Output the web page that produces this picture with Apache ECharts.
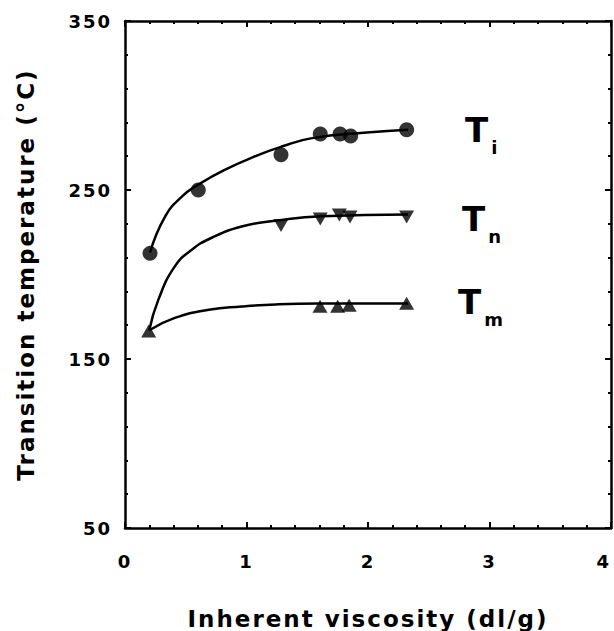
<!DOCTYPE html>
<html>
<head>
<meta charset="utf-8">
<script src="https://cdn.jsdelivr.net/npm/echarts@6/dist/echarts.min.js"></script>
<style>
  html, body { margin: 0; background: #fff; }
  main { width: 614px; height: 631px; }
  main text { letter-spacing: 2px; }
</style>
</head>
<body>
<main></main>
<script>
// measured points
const viscTi = [0.206, 0.603, 1.284, 1.607, 1.77, 1.857, 2.318]
const tempTi = [212.5, 250, 270.8, 283.2, 283.2, 282, 285.6]
const viscTn = [1.284, 1.607, 1.764, 1.852, 2.318]
const tempTn = [229, 232.8, 235.2, 234, 234]
const viscTm = [0.195, 1.605, 1.75, 1.845, 2.318]
const tempTm = [166.5, 181.2, 181.2, 181.8, 183]

// fitted curves
const fitViscTi = [0.206, 0.33, 0.47, 0.6, 0.82, 1.1, 1.29, 1.54, 1.99, 2.33]
const fitTempTi = [213, 234.3, 246.2, 253, 261.9, 270.8, 275.7, 280.7, 284, 285.6]
const fitViscTn = [0.2, 0.274, 0.41, 0.55, 0.71, 0.96, 1.24, 1.62, 2.33]
const fitTempTn = [167, 185, 204.8, 214.7, 221.6, 228.4, 231.8, 234.5, 235.5]
const fitViscTm = [0.2, 0.41, 0.69, 0.96, 1.24, 1.59, 2.33]
const fitTempTm = [167, 174.3, 179.2, 181.1, 182.3, 182.8, 182.8]

const yMajor = [50, 150, 250, 350]
const yMinor = [70, 90, 110, 130, 170, 190, 210, 230, 270, 290, 310, 330]

;(function () {
  const font = 'DejaVu Sans'
  const black = '#000'
  const pairs = (xs, ys) => xs.map((x, i) => [x, ys[i]])

  const line = { onZero: false, lineStyle: { color: black, width: 2.5 } }
  const tick = (length, extra) => Object.assign({ inside: true, length, lineStyle: { color: black, width: 2 } }, extra)
  const label = { color: black, fontFamily: font, fontWeight: 'bold', fontSize: 18 }
  const title = { color: black, fontFamily: font, fontWeight: 'bold', fontSize: 23 }

  function xAxis(position, withLabels) {
    return {
      type: 'value',
      position,
      min: 0,
      max: 4,
      interval: 1,
      axisLine: line,
      axisTick: tick(6),
      minorTick: { show: true, splitNumber: 5, length: 3, lineStyle: { color: black, width: 2 } },
      splitLine: { show: false },
      minorSplitLine: { show: false },
      axisLabel: withLabels ? Object.assign({ margin: 24, alignMaxLabel: 'right' }, label) : { show: false },
      name: withLabels ? 'Inherent viscosity (dl/g)' : '',
      nameLocation: 'middle',
      nameGap: 79,
      nameTextStyle: title,
    }
  }

  function yAxis(position, values, length, main) {
    return {
      type: 'value',
      position,
      min: 50,
      max: 350,
      axisLine: main !== undefined ? line : { show: false, onZero: false },
      axisTick: tick(length, { customValues: values }),
      splitLine: { show: false },
      axisLabel: main ? Object.assign({ margin: 13, customValues: values }, label) : { show: false },
      name: main ? 'Transition temperature (°C)' : '',
      nameLocation: 'middle',
      nameGap: 88,
      nameTextStyle: title,
    }
  }

  const rich = {
    t: { fontFamily: font, fontWeight: 'bold', fontSize: 34, lineHeight: 34, color: black },
    s: { fontFamily: font, fontWeight: 'bold', fontSize: 18, lineHeight: 18, color: black, padding: [36, 0, 0, 3] },
  }

  function curve(xs, ys, sub, distance, offset) {
    return {
      type: 'line',
      data: pairs(xs, ys),
      smooth: 0.5,
      showSymbol: false,
      lineStyle: { color: black, width: 2.5 },
      endLabel: { show: true, formatter: `{t|T}{s|${sub}}`, distance, offset, rich },
      z: 2,
    }
  }

  function points(xs, ys, symbol, size, rotate) {
    return {
      type: 'scatter',
      data: pairs(xs, ys),
      symbol,
      symbolSize: size,
      symbolRotate: rotate || 0,
      itemStyle: { color: black },
      z: 3,
    }
  }

  const chart = echarts.init(document.querySelector('main'), null, { renderer: 'svg' })
  chart.setOption({
    animation: false,
    grid: { left: 125, right: 3, top: 21, bottom: 103, outerBoundsMode: 'none' },
    xAxis: [xAxis('bottom', true), xAxis('top', false)],
    yAxis: [
      yAxis('left', yMajor, 6, true),
      yAxis('right', yMajor, 6, false),
      yAxis('left', yMinor, 3),
      yAxis('right', yMinor, 3),
    ],
    series: [
      curve(fitViscTi, fitTempTi, 'i', 57, [0, 0]),
      curve(fitViscTn, fitTempTn, 'n', 54, [0, 4]),
      curve(fitViscTm, fitTempTm, 'm', 50, [0, -2]),
      points(viscTi, tempTi, 'circle', 15),
      points(viscTn, tempTn, 'triangle', [15, 13], 180),
      points(viscTm, tempTm, 'triangle', [15, 13]),
    ],
  })
})()
</script>
</body>
</html>
